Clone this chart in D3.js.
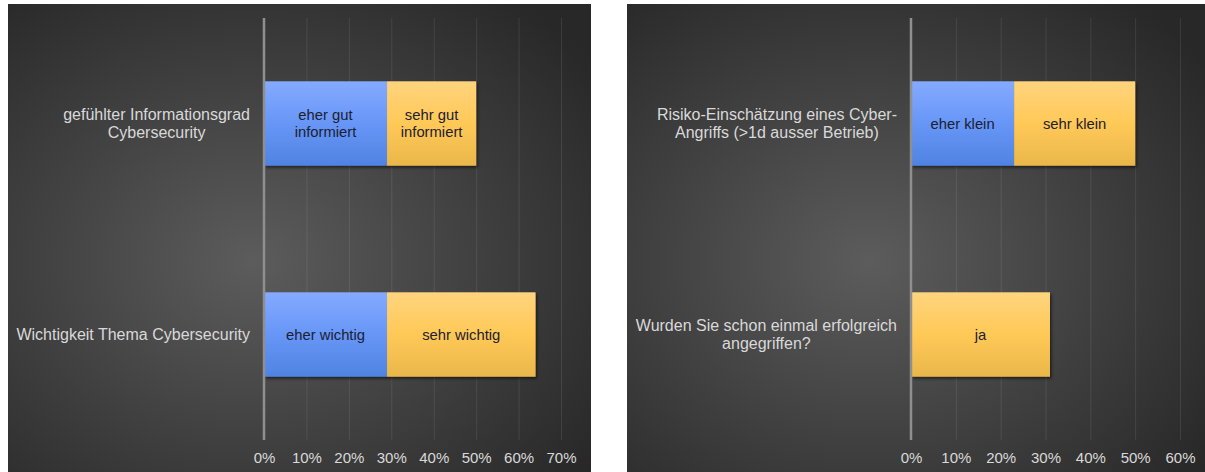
<!DOCTYPE html>
<html>
<head>
<meta charset="utf-8">
<script src="https://cdn.jsdelivr.net/npm/d3@7"></script>
<style>
  body { margin: 0; background: #ffffff; }
  text { font-family: "Liberation Sans", Arial, sans-serif; }
</style>
</head>
<body>
<svg id="chart" width="1205" height="472"></svg>
<script>
// left chart data
var leftCategories = [["gefühlter Informationsgrad", "Cybersecurity"], ["Wichtigkeit Thema Cybersecurity"]];
var leftEher = [0.29, 0.29];
var leftSehr = [0.21, 0.35];
var leftEherLabels = [["eher gut", "informiert"], ["eher wichtig"]];
var leftSehrLabels = [["sehr gut", "informiert"], ["sehr wichtig"]];
var leftTicks = [0, 0.1, 0.2, 0.3, 0.4, 0.5, 0.6, 0.7];

// right chart data
var rightCategories = [["Risiko-Einschätzung eines Cyber-", "Angriffs (>1d ausser Betrieb)"], ["Wurden Sie schon einmal erfolgreich", "angegriffen?"]];
var rightEher = [0.23, 0];
var rightSehr = [0.27, 0.31];
var rightEherLabels = [["eher klein"], []];
var rightSehrLabels = [["sehr klein"], ["ja"]];
var rightTicks = [0, 0.1, 0.2, 0.3, 0.4, 0.5, 0.6];

var svg = d3.select("#chart");
var defs = svg.append("defs");

// background gradient
var bg = defs.append("radialGradient").attr("id", "bgGrad")
    .attr("cx", "42%").attr("cy", "55%").attr("r", "72%");
bg.append("stop").attr("offset", "0%").attr("stop-color", "#5c5c5c");
bg.append("stop").attr("offset", "100%").attr("stop-color", "#282828");

var blue = defs.append("linearGradient").attr("id", "blueGrad")
    .attr("x1", 0).attr("y1", 0).attr("x2", 0).attr("y2", 1);
blue.append("stop").attr("offset", "0%").attr("stop-color", "#85aaff");
blue.append("stop").attr("offset", "50%").attr("stop-color", "#6796f7");
blue.append("stop").attr("offset", "100%").attr("stop-color", "#4f83e2");

var yellow = defs.append("linearGradient").attr("id", "yellowGrad")
    .attr("x1", 0).attr("y1", 0).attr("x2", 0).attr("y2", 1);
yellow.append("stop").attr("offset", "0%").attr("stop-color", "#ffd47e");
yellow.append("stop").attr("offset", "50%").attr("stop-color", "#ffc957");
yellow.append("stop").attr("offset", "100%").attr("stop-color", "#e9b74a");

var shadow = defs.append("filter").attr("id", "barShadow")
    .attr("x", "-10%").attr("y", "-10%").attr("width", "130%").attr("height", "140%");
shadow.append("feDropShadow").attr("dx", 1.5).attr("dy", 2).attr("stdDeviation", 1.8)
    .attr("flood-color", "#000").attr("flood-opacity", 0.55);

drawPanel({
    bgX: 8, bgW: 583,
    x0: 264, x1: 561, maxVal: 0.7,
    labelRight: 250,
    categories: leftCategories, eher: leftEher, sehr: leftSehr,
    eherLabels: leftEherLabels, sehrLabels: leftSehrLabels, ticks: leftTicks
});

drawPanel({
    bgX: 627, bgW: 578,
    x0: 911, x1: 1180, maxVal: 0.6,
    labelRight: 897,
    categories: rightCategories, eher: rightEher, sehr: rightSehr,
    eherLabels: rightEherLabels, sehrLabels: rightSehrLabels, ticks: rightTicks
});

function drawPanel(cfg) {
    var g = svg.append("g");
    var plotTop = 18, plotBottom = 440;

    g.append("rect")
        .attr("x", cfg.bgX).attr("y", 4)
        .attr("width", cfg.bgW).attr("height", 468)
        .attr("fill", "url(#bgGrad)");

    var x = d3.scaleLinear()
        .domain([0, cfg.maxVal])
        .range([cfg.x0, cfg.x1]);

    var idx = cfg.categories.map(function(d, i) { return i; });
    var y = d3.scaleBand()
        .domain(idx)
        .range([plotTop, plotBottom])
        .paddingInner(0.6)
        .paddingOuter(0.3);

    // grid lines
    g.append("g")
        .attr("transform", "translate(0," + plotBottom + ")")
        .call(d3.axisBottom(x)
            .tickValues(cfg.ticks.slice(1))
            .tickSize(-(plotBottom - plotTop))
            .tickFormat(""))
        .call(function(s) { s.select(".domain").remove(); })
        .selectAll("line")
        .attr("stroke", "#ffffff")
        .attr("stroke-opacity", 0.09);

    // tick labels
    g.append("g")
        .attr("transform", "translate(0," + plotBottom + ")")
        .call(d3.axisBottom(x)
            .tickValues(cfg.ticks)
            .tickSize(0)
            .tickPadding(12)
            .tickFormat(d3.format(".0%")))
        .call(function(s) { s.select(".domain").remove(); })
        .selectAll("text")
        .attr("fill", "#d9d9d9")
        .style("font-size", "15px");

    // bars
    var bars = g.append("g");
    idx.forEach(function(i) {
        var segs = [
            {x: 0, v: cfg.eher[i], fill: "url(#blueGrad)", label: cfg.eherLabels[i]},
            {x: cfg.eher[i], v: cfg.sehr[i], fill: "url(#yellowGrad)", label: cfg.sehrLabels[i]}
        ].filter(function(s) { return s.v > 0; });

        var barG = bars.append("g").attr("filter", "url(#barShadow)");
        barG.selectAll("rect")
            .data(segs)
            .enter()
            .append("rect")
            .attr("x", function(s) { return x(s.x); })
            .attr("y", y(i))
            .attr("width", function(s) { return x(s.x + s.v) - x(s.x); })
            .attr("height", y.bandwidth())
            .attr("fill", function(s) { return s.fill; });

        segs.forEach(function(s) {
            var cx = (x(s.x) + x(s.x + s.v)) / 2;
            var cy = y(i) + y.bandwidth() / 2;
            var n = s.label.length;
            var t = bars.append("text")
                .attr("text-anchor", "middle")
                .attr("fill", "#1c2030")
                .style("font-size", "14.8px");
            s.label.forEach(function(line, k) {
                t.append("tspan")
                    .attr("x", cx)
                    .attr("y", cy + (k - (n - 1) / 2) * 17 + 5)
                    .text(line);
            });
        });
    });

    // zero axis line
    g.append("line")
        .attr("x1", x(0)).attr("x2", x(0))
        .attr("y1", plotTop).attr("y2", plotBottom)
        .attr("stroke", "#8f8f8f")
        .attr("stroke-width", 2.5);

    // category labels
    idx.forEach(function(i) {
        var lines = cfg.categories[i];
        var n = lines.length;
        var cy = y(i) + y.bandwidth() / 2;
        var t = g.append("text")
            .attr("text-anchor", "middle")
            .attr("fill", "#d9d9d9")
            .style("font-size", "16px");
        var spans = lines.map(function(line, k) {
            return t.append("tspan")
                .attr("y", cy + (k - (n - 1) / 2) * 18.5 + 5.5)
                .text(line);
        });
        var maxW = d3.max(spans, function(s) { return s.node().getComputedTextLength(); });
        spans.forEach(function(s) { s.attr("x", cfg.labelRight - maxW / 2); });
    });
}
</script>
</body>
</html>
